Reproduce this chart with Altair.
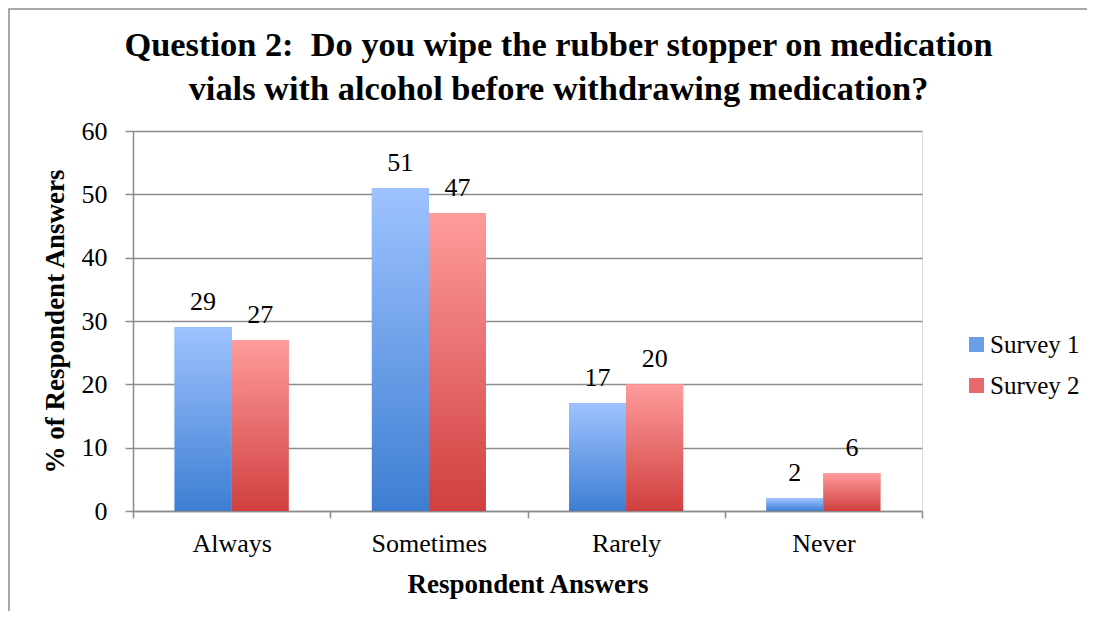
import altair as alt
import pandas as pd

categories = ["Always", "Sometimes", "Rarely", "Never"]
series = ["Survey 1", "Survey 2"]
survey1 = [29, 51, 17, 2]
survey2 = [27, 47, 20, 6]

rows = []
for c, a, b in zip(categories, survey1, survey2):
    rows.append({"answer": c, "survey": series[0], "value": a})
    rows.append({"answer": c, "survey": series[1], "value": b})
df = pd.DataFrame(rows)

FONT = "Liberation Serif"
GRAY = "#8c8c8c"

x_enc = alt.X(
    "answer:N",
    sort=categories,
    scale=alt.Scale(domain=categories, paddingInner=0, paddingOuter=0),
    axis=alt.Axis(
        title="Respondent Answers",
        labelAngle=0,
        tickBand="extent",
        grid=False,
        labelFont=FONT,
        labelFontSize=26,
        labelColor="black",
        labelPadding=12,
        tickSize=7,
        tickColor=GRAY,
        tickWidth=1.5,
        domainColor=GRAY,
        domainWidth=1.5,
        titleFont=FONT,
        titleFontSize=27,
        titleFontWeight="bold",
        titleColor="black",
        titlePadding=15,
    ),
)
xo_enc = alt.XOffset(
    "survey:N",
    scale=alt.Scale(domain=series, paddingInner=0, paddingOuter=0.73),
)
y_enc = alt.Y(
    "value:Q",
    scale=alt.Scale(domain=[0, 60], nice=False),
    axis=alt.Axis(
        values=[0, 10, 20, 30, 40, 50, 60],
        title="% of Respondent Answers",
        grid=True,
        gridColor=GRAY,
        gridWidth=1.5,
        labelFont=FONT,
        labelFontSize=26,
        labelColor="black",
        labelPadding=18,
        tickSize=8,
        tickColor=GRAY,
        tickWidth=1.5,
        domainColor=GRAY,
        domainWidth=1.5,
        titleFont=FONT,
        titleFontSize=27,
        titleFontWeight="bold",
        titleColor="black",
        titlePadding=12,
    ),
)

base = alt.Chart(df)

legend_layer = base.mark_bar().encode(
    x=x_enc,
    xOffset=xo_enc,
    y=y_enc,
    color=alt.Color(
        "survey:N",
        scale=alt.Scale(domain=series, range=["#6a9fe8", "#e86a6a"]),
        legend=alt.Legend(
            title=None,
            orient="none",
            legendX=831,
            legendY=201,
            symbolType="square",
            symbolSize=225,
            symbolStrokeWidth=0,
            labelFont=FONT,
            labelFontSize=25,
            labelColor="black",
            labelOffset=1,
            rowPadding=15,
        ),
    ),
)

def grad(top, bottom):
    return alt.Gradient(
        gradient="linear",
        x1=0, x2=0, y1=0, y2=1,
        stops=[alt.GradientStop(offset=0, color=top),
               alt.GradientStop(offset=1, color=bottom)],
    )

blue_layer = base.transform_filter(alt.datum.survey == series[0]).mark_bar(
    fill=grad("#9ec3ff", "#3d7ed2")
).encode(x=x_enc, xOffset=xo_enc, y=y_enc)

red_layer = base.transform_filter(alt.datum.survey == series[1]).mark_bar(
    fill=grad("#ff9c9c", "#d03f3f")
).encode(x=x_enc, xOffset=xo_enc, y=y_enc)

text_layer = base.mark_text(
    font=FONT, fontSize=26, color="black", baseline="alphabetic", dy=-17
).encode(x=x_enc, xOffset=xo_enc, y=y_enc, text="value:Q")

border = alt.Chart(alt.Data(values=[{}])).mark_rect(
    filled=False, stroke=GRAY, strokeWidth=1.5
).encode(
    x=alt.value(-124), x2=alt.value(1300),
    y=alt.value(-122), y2=alt.value(800),
)

chart = alt.layer(border, legend_layer, blue_layer, red_layer, text_layer).properties(
    width=789,
    height=380,
    autosize=alt.AutoSizeParams(type="none"),
    padding={"left": 125, "top": 123, "right": 165, "bottom": 100},
    title=alt.Title(
        ["Question 2:\u00a0 Do you wipe the rubber stopper on medication",
         "vials with alcohol before withdrawing medication?"],
        font=FONT,
        fontSize=34.4,
        fontWeight="bold",
        color="black",
        anchor="middle",
        dx=31,
        lineHeight=44,
        offset=-99,
    ),
).configure_view(strokeWidth=0).configure(background="white")

chart.save("out.html", embed_options={"renderer": "svg", "actions": False})
